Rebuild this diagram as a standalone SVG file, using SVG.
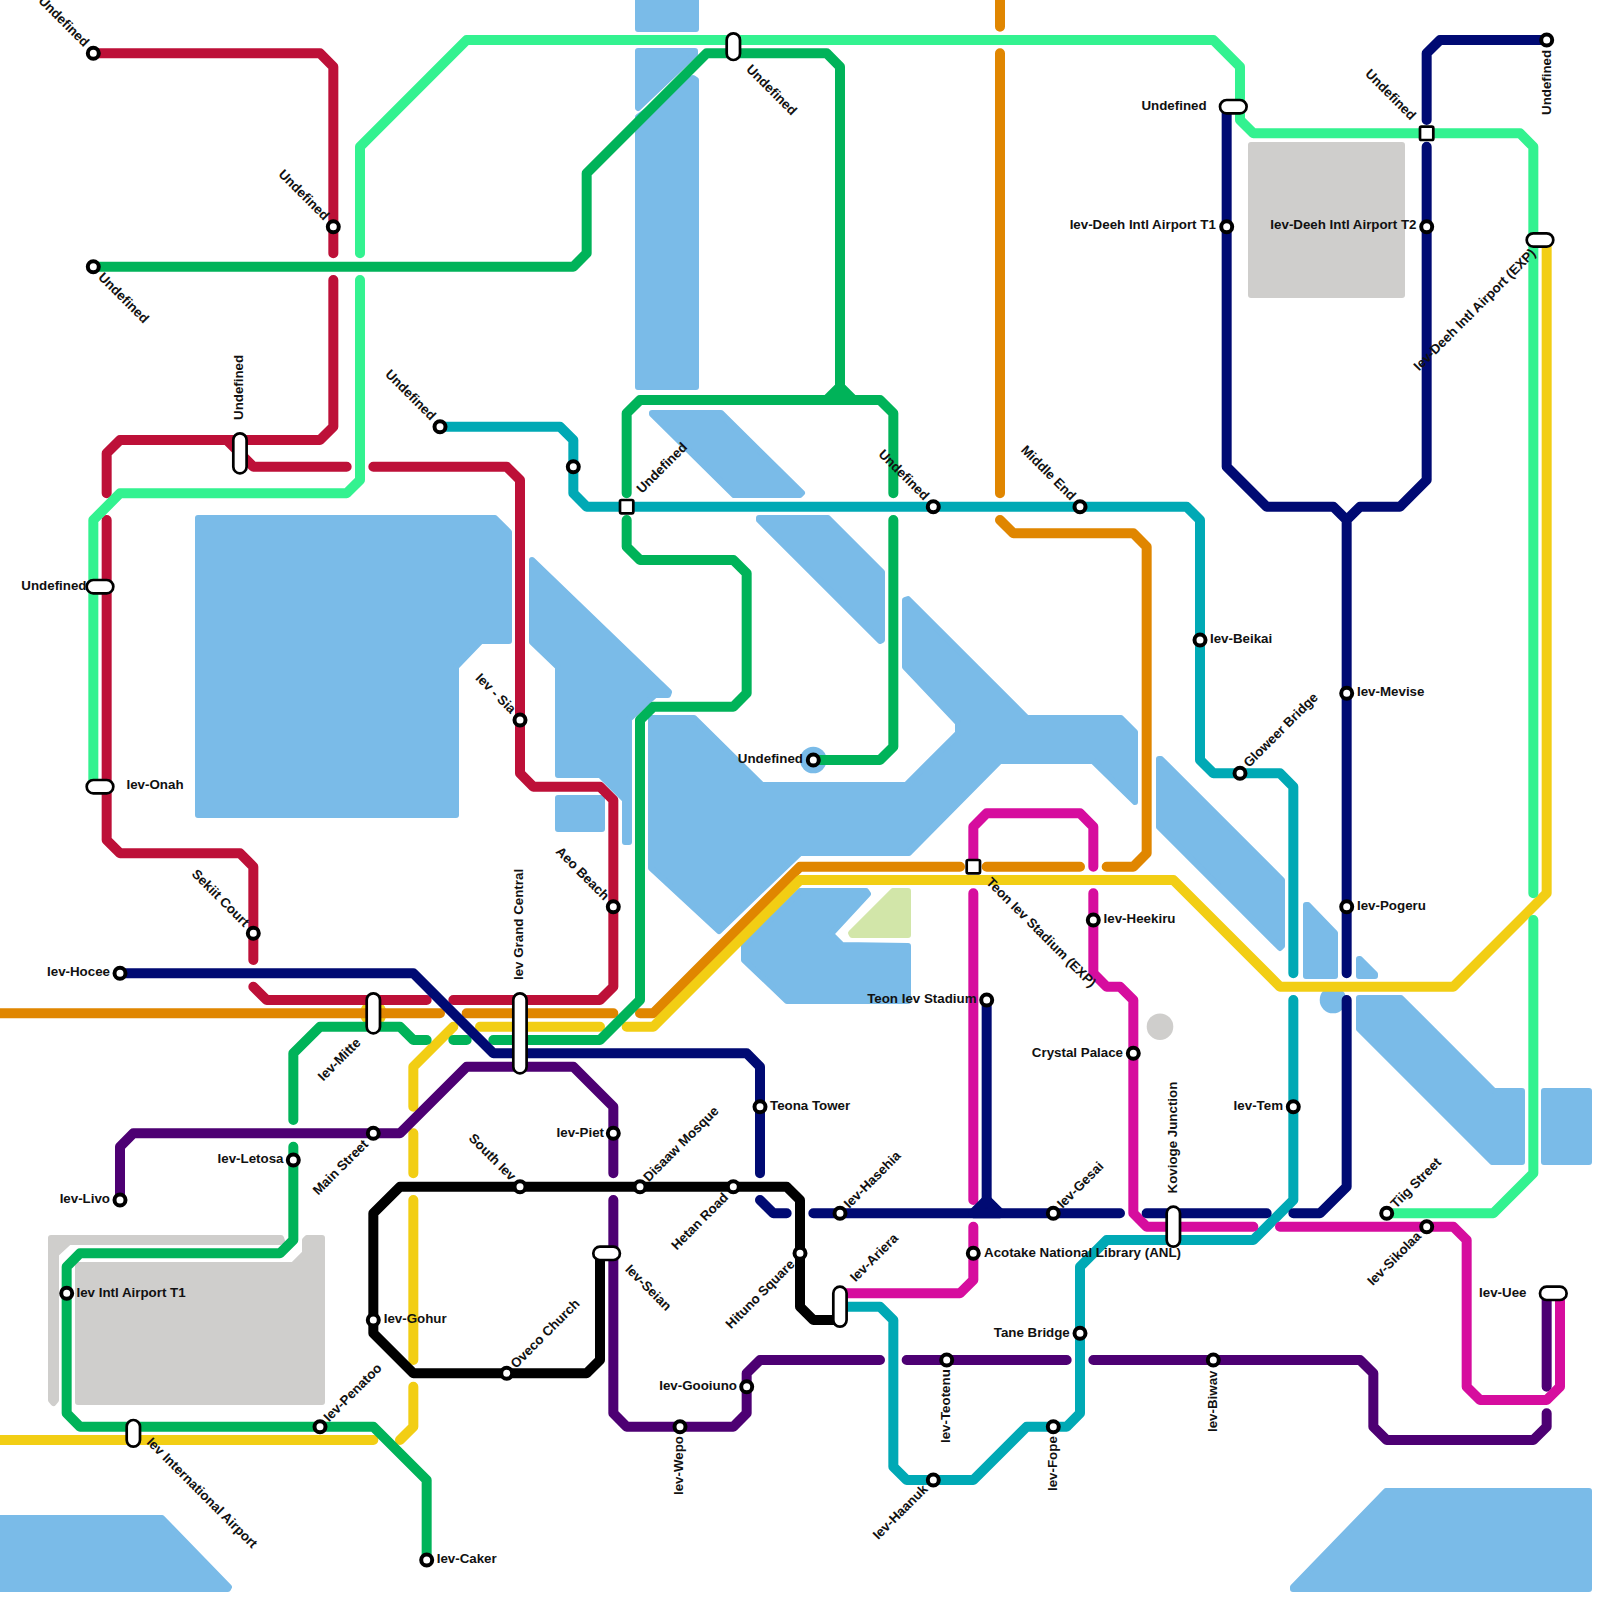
<svg xmlns="http://www.w3.org/2000/svg" width="1600" height="1600" viewBox="0 0 1600 1600">
<style>
text{font-family:"Liberation Sans",Arial,sans-serif;font-size:13.33px;font-weight:bold;fill:#111}
.e{text-anchor:end}
.w{fill:#7abbe8;stroke:#7abbe8;stroke-width:6;stroke-linejoin:round}
.g{fill:#cfcecc;stroke:#cfcecc;stroke-width:6;stroke-linejoin:round}
.l{fill:none;stroke-width:.75;stroke-linecap:round;stroke-linejoin:round}
.red{stroke:#bd1038}.lg{stroke:#33f290}.gr{stroke:#00b359}.te{stroke:#00a9b5}.na{stroke:#000a73}.pu{stroke:#4d0073}.ma{stroke:#d60d9e}.or{stroke:#e08600}.ye{stroke:#f2ce14}.bl{stroke:#000}
.s{fill:#fff;stroke:#000;stroke-width:4}
.q{fill:#fff;stroke:#000;stroke-width:2.7}
.p{fill:#fff;stroke:#000;stroke-width:2.7}
</style>
<g id="background">
<rect width="1600" height="1600" fill="#fff"/>
<polygon class="w" points="638,-5 696,-5 696,29 638,29"/>
<polygon class="w" points="638,51 695,51 695,54 638,108"/>
<polygon class="w" points="693,78 696,80 696,387 638,387 638,117"/>
<polygon class="w" points="198,518 495,518 509,532 509,641 481,641 456,667 456,815 198,815"/>
<polygon class="w" points="532,560 669,692 668,695 655,695 629,719 629,842 625,842 625,800 600,775 558,775 558,667 532,642"/>
<polygon class="w" points="558,798 602,798 602,829 558,829"/>
<polygon class="w" points="651,718 694,718 762,785 906,785 958,733 958,723 905,667 905,600 908,599 1027,718 1121,718 1135,732 1135,802 1093,761 1000,761 909,853 800,853 719,931 651,868"/>
<polygon class="w" points="866,891 800,891 744,946 744,960 787,1001 908,1001 908,946 842,945 831,934 868,894"/>
<polygon fill="#d2e6a9" stroke="#d2e6a9" stroke-width="6" stroke-linejoin="round" points="893,891 908,891 908,935 852,935 851,933"/>
<polygon class="w" points="652,413 721,413 802,493 800,495 734,495 652,414"/>
<polygon class="w" points="759,518 828,518 882,572 882,640 880,641 759,520"/>
<polygon class="w" points="1159,759 1161,759 1282,880 1282,946 1280,948 1159,827"/>
<polygon class="w" points="1306,905 1308,905 1335,933 1335,976 1306,976"/>
<polygon class="w" points="1359,959 1360,959 1375,974 1375,976 1359,976"/>
<circle cx="1333" cy="1000" r="13.3" fill="#7abbe8"/>
<circle cx="813.3" cy="760" r="13.3" fill="#7abbe8"/>
<polygon class="w" points="1359,998 1401,998 1494,1091 1522,1091 1522,1162 1492,1162 1359,1029"/>
<polygon class="w" points="1544,1091 1589,1091 1589,1162 1544,1162"/>
<polygon class="w" points="1293,1587 1386,1491 1589,1491 1589,1589 1293,1589"/>
<polygon class="w" points="-3,1518 162,1518 229,1587 228,1589 -3,1589"/>
<polygon class="g" points="1251,145 1402,145 1402,295 1251,295"/>
<polygon class="g" points="78,1265 293,1265 305,1253 305,1240 307,1238 322,1238 322,1402 78,1402"/>
<polygon class="g" points="51,1238 281,1238 282,1241 280,1242 69,1242 56,1254 56,1400 53.5,1403 51,1400"/>
<circle cx="1160" cy="1026.7" r="13.3" fill="#cfcecc"/>
<circle cx="373.3" cy="1013.3" r="13.3" fill="#f2ce14"/>
</g>
<g id="connectors" transform="scale(13.33333)">
<path class="l or" d="M0 76H33M35 76H46M48 76H49L60 65H72M74 65H81M83 65H85L86 64V41L85 40H76L75 39M75 37V4M75 2V0"/>
<path class="l ye" d="M0 108H28M30 108L31 107V104M31 102V90M31 88V85M31 83V80L34 77M36 77H45M47 77H49L60 66H88L96 74H109L116 67V18"/>
<path class="l red" d="M7 4H24L25 5V19M25 21V32L24 33H9L8 34V37M8 39V63L9 64H18L19 65V72M19 74L20 75H32M34 75H45L46 74V60L45 59H40L39 58V36L38 35H28M26 35H19L17 33"/>
<path class="l lg" d="M7 59V39L9 37H26L27 36V21M27 19V11L35 3H91L93 5V9L94 10H114L115 11V67M115 69V88L112 91H104"/>
<path class="l gr" d="M7 20H43L44 19V13L53 4H62L63 5V29M47 37V31L48 30H66L67 31V37M67 39V56L66 57H61M47 39V41L48 42H55L56 43V52L55 53H49L48 54V75L45 78H37M35 78H34M32 78H31L30 77H24L22 79V84M22 86V93L21 94H6L5 95V106L6 107H28L32 111V117"/>
<path class="l gr" style="fill:#00b359" d="M62 30L63 29L64 30Z"/>
<path class="l te" d="M33 32H42L43 33V37L44 38H89L90 39V57L91 58H96L97 59V73M97 75V90L94 93H83L81 95V106L80 107H77L73 111H68L67 110V99L66 98H63"/>
<path class="l pu" d="M9 90V86L10 85H30L35 80H43L46 83V88M46 90V106L47 107H55L56 106V103L57 102H66M68 102H80M82 102H102L103 103V107L104 108H115L116 107V106M116 104V97"/>
<path class="l ma" d="M63 97H72L73 96V92M73 90V67M73 65V62L74 61H81L82 62V65M82 67V73L83 74H84L85 75V91L86 92H94M96 92H109L110 93V104L111 105H116L117 104V97"/>
<path class="l bl" d="M63 99H61L60 98V90L59 89H30L28 91V100L31 103H44L45 102V94"/>
<path class="l na" d="M9 73H31L37 79H56L57 80V88M57 90L58 91H59M61 91H84M86 91H95M97 91H99L101 89V75M101 73V39M92 8V35L95 38H100L101 39L102 38H105L107 36V11M107 9V4L108 3H116M74 75V90"/>
<path class="l na" style="fill:#000a73" d="M73 91L74 90L75 91Z"/>
</g>
<g id="n1"><circle class="s" cx="93.3" cy="53.3" r="5.5"/><text class="e" transform="translate(83.8 47.6) rotate(45)">Undefined</text></g>
<g id="n2"><circle class="s" cx="333.3" cy="226.7" r="5.5"/><text class="e" transform="translate(323.8 221) rotate(45)">Undefined</text></g>
<g id="n3"><circle class="s" cx="93.3" cy="266.7" r="5.5"/><text transform="translate(97.5 278) rotate(45)">Undefined</text></g>
<g id="n4"><circle class="s" cx="440" cy="426.7" r="5.5"/><text class="e" transform="translate(430.5 421) rotate(45)">Undefined</text></g>
<g id="n5"><circle class="s" cx="573.3" cy="466.7" r="5.5"/></g>
<g id="n6"><circle class="s" cx="520" cy="720" r="5.5"/><text class="e" transform="translate(510.5 714.3) rotate(45)">Iev - Sia</text></g>
<g id="n7"><circle class="s" cx="813.3" cy="760" r="5.5"/><text class="e" x="803" y="762.5">Undefined</text></g>
<g id="n8"><circle class="s" cx="933.3" cy="506.7" r="5.5"/><text class="e" transform="translate(923.8 501) rotate(45)">Undefined</text></g>
<g id="n9"><circle class="s" cx="1080" cy="506.7" r="5.5"/><text class="e" transform="translate(1070.5 501) rotate(45)">Middle End</text></g>
<g id="n10"><circle class="s" cx="1226.7" cy="226.7" r="5.5"/><text class="e" x="1215.8" y="229">Iev-Deeh Intl Airport T1</text></g>
<g id="n11"><circle class="s" cx="1426.7" cy="226.7" r="5.5"/><text class="e" x="1416.5" y="229">Iev-Deeh Intl Airport T2</text></g>
<g id="n12"><circle class="s" cx="1546.7" cy="40" r="5.5"/><text transform="translate(1551 115) rotate(-90)">Undefined</text></g>
<g id="n13"><circle class="s" cx="1200" cy="640" r="5.5"/><text x="1210" y="643">Iev-Beikai</text></g>
<g id="n14"><circle class="s" cx="1346.7" cy="693.3" r="5.5"/><text x="1357" y="696">Iev-Mevise</text></g>
<g id="n15"><circle class="s" cx="1240" cy="773.3" r="5.5"/><text transform="translate(1249 768) rotate(-45)">Gloweer Bridge</text></g>
<g id="n16"><circle class="s" cx="1346.7" cy="906.7" r="5.5"/><text x="1357" y="909.5">Iev-Pogeru</text></g>
<g id="n17"><circle class="s" cx="1093.3" cy="920" r="5.5"/><text x="1103.6" y="923">Iev-Heekiru</text></g>
<g id="n18"><circle class="s" cx="986.7" cy="1000" r="5.5"/><text class="e" x="976.5" y="1003">Teon Iev Stadium</text></g>
<g id="n19"><circle class="s" cx="1133.3" cy="1053.3" r="5.5"/><text class="e" x="1123" y="1056.5">Crystal Palace</text></g>
<g id="n20"><circle class="s" cx="1293.3" cy="1106.7" r="5.5"/><text class="e" x="1283" y="1109.5">Iev-Tem</text></g>
<g id="n21"><circle class="s" cx="253.3" cy="933.3" r="5.5"/><text class="e" transform="translate(243.8 927.6) rotate(45)">Sekiit Court</text></g>
<g id="n22"><circle class="s" cx="613.3" cy="906.7" r="5.5"/><text class="e" transform="translate(603.8 901) rotate(45)">Aeo Beach</text></g>
<g id="n23"><circle class="s" cx="120" cy="973.3" r="5.5"/><text class="e" x="110" y="976">Iev-Hocee</text></g>
<g id="n24"><circle class="s" cx="760" cy="1106.7" r="5.5"/><text x="770" y="1109.5">Teona Tower</text></g>
<g id="n25"><circle class="s" cx="373.3" cy="1133.3" r="5.5"/><text class="e" transform="translate(369 1145) rotate(-45)">Main Street</text></g>
<g id="n26"><circle class="s" cx="613.3" cy="1133.3" r="5.5"/><text class="e" x="604" y="1136.5">Iev-Piet</text></g>
<g id="n27"><circle class="s" cx="293.3" cy="1160" r="5.5"/><text class="e" x="283.5" y="1163">Iev-Letosa</text></g>
<g id="n28"><circle class="s" cx="120" cy="1200" r="5.5"/><text class="e" x="110" y="1203">Iev-Livo</text></g>
<g id="n29"><circle class="s" cx="520" cy="1186.7" r="5.5"/><text class="e" transform="translate(510.5 1181.5) rotate(45)">South Iev</text></g>
<g id="n30"><circle class="s" cx="640" cy="1186.7" r="5.5"/><text transform="translate(648.7 1182.4) rotate(-45)">Disaaw Mosque</text></g>
<g id="n31"><circle class="s" cx="733.3" cy="1186.7" r="5.5"/><text class="e" transform="translate(729 1198.3) rotate(-45)">Hetan Road</text></g>
<g id="n32"><circle class="s" cx="66.7" cy="1293.3" r="5.5"/><text x="76.5" y="1296.5">Iev Intl Airport T1</text></g>
<g id="n33"><circle class="s" cx="373.3" cy="1320" r="5.5"/><text x="383.7" y="1323">Iev-Gohur</text></g>
<g id="n34"><circle class="s" cx="506.7" cy="1373.3" r="5.5"/><text transform="translate(516 1369) rotate(-45)">Oveco Church</text></g>
<g id="n35"><circle class="s" cx="320" cy="1426.7" r="5.5"/><text transform="translate(329 1422.4) rotate(-45)">Iev-Penatoo</text></g>
<g id="n36"><circle class="s" cx="426.7" cy="1560" r="5.5"/><text x="436.7" y="1563">Iev-Caker</text></g>
<g id="n37"><circle class="s" cx="800" cy="1253.3" r="5.5"/><text class="e" transform="translate(795.5 1265) rotate(-45)">Hituno Square</text></g>
<g id="n38"><circle class="s" cx="680" cy="1426.7" r="5.5"/><text transform="translate(683 1495) rotate(-90)">Iev-Wepo</text></g>
<g id="n39"><circle class="s" cx="746.7" cy="1386.7" r="5.5"/><text class="e" x="737" y="1389.5">Iev-Gooiuno</text></g>
<g id="n40"><circle class="s" cx="840" cy="1213.3" r="5.5"/><text transform="translate(849.2 1209) rotate(-45)">Iev-Hasehia</text></g>
<g id="n41"><circle class="s" cx="1053.3" cy="1213.3" r="5.5"/><text transform="translate(1062.5 1209) rotate(-45)">Iev-Gesai</text></g>
<g id="n42"><circle class="s" cx="973.3" cy="1253.3" r="5.5"/><text x="984" y="1256.5">Acotake National Library (ANL)</text></g>
<g id="n43"><circle class="s" cx="1080" cy="1333.3" r="5.5"/><text class="e" x="1069.8" y="1336.5">Tane Bridge</text></g>
<g id="n44"><circle class="s" cx="946.7" cy="1360" r="5.5"/><text transform="translate(950 1443) rotate(-90)">Iev-Teotenu</text></g>
<g id="n45"><circle class="s" cx="1213.3" cy="1360" r="5.5"/><text transform="translate(1217 1432) rotate(-90)">Iev-Biwav</text></g>
<g id="n46"><circle class="s" cx="1053.3" cy="1426.7" r="5.5"/><text transform="translate(1057 1491) rotate(-90)">Iev-Fope</text></g>
<g id="n47"><circle class="s" cx="933.3" cy="1480" r="5.5"/><text class="e" transform="translate(928.5 1490) rotate(-45)">Iev-Haanuk</text></g>
<g id="n48"><circle class="s" cx="1386.7" cy="1213.3" r="5.5"/><text transform="translate(1396 1209) rotate(-45)">Tiig Street</text></g>
<g id="n49"><circle class="s" cx="1426.7" cy="1226.7" r="5.5"/><text class="e" transform="translate(1422 1237) rotate(-45)">Iev-Sikolaa</text></g>
<g id="x1"><rect class="q" x="620" y="500" width="13.3" height="13.3" rx="1.5"/><text transform="translate(642 494) rotate(-45)">Undefined</text></g>
<g id="x2"><rect class="q" x="966.7" y="860" width="13.3" height="13.3" rx="1.5"/><text transform="translate(985.5 883) rotate(45)">Teon Iev Stadium (EXP)</text></g>
<g id="x3"><rect class="q" x="1420" y="126.7" width="13.3" height="13.3" rx="1.5"/><text class="e" transform="translate(1410.5 120.7) rotate(45)">Undefined</text></g>
<g id="p1"><rect class="p" x="233.3" y="433.3" width="13.3" height="40" rx="6.6"/><text transform="translate(243 420) rotate(-90)">Undefined</text></g>
<g id="p2"><rect class="p" x="86.7" y="580" width="26.6" height="13.3" rx="6.6"/><text class="e" x="86.5" y="590">Undefined</text></g>
<g id="p3"><rect class="p" x="86.7" y="780" width="26.6" height="13.3" rx="6.6"/><text x="126.5" y="789">Iev-Onah</text></g>
<g id="p4"><rect class="p" x="726.7" y="33.3" width="13.3" height="26.7" rx="6.6"/><text transform="translate(745.5 70) rotate(45)">Undefined</text></g>
<g id="p5"><rect class="p" x="1220" y="100" width="26.6" height="13.3" rx="6.6"/><text class="e" x="1206.6" y="109.5">Undefined</text></g>
<g id="p6"><rect class="p" x="1526.7" y="233.3" width="26.6" height="13.3" rx="6.6"/><text class="e" transform="translate(1536.5 254) rotate(-45)">Iev-Deeh Intl Airport (EXP)</text></g>
<g id="p7"><rect class="p" x="366.7" y="993.3" width="13.3" height="40" rx="6.6"/><text class="e" transform="translate(361.5 1043.5) rotate(-45)">Iev-Mitte</text></g>
<g id="p8"><rect class="p" x="513.3" y="993.3" width="13.3" height="80" rx="6.6"/><text transform="translate(523 980) rotate(-90)">Iev Grand Central</text></g>
<g id="p9"><rect class="p" x="126.7" y="1420" width="13.3" height="26.7" rx="6.6"/><text transform="translate(146 1443) rotate(45)">Iev International Airport</text></g>
<g id="p10"><rect class="p" x="593.3" y="1246.7" width="26.6" height="13.3" rx="6.6"/><text transform="translate(624.5 1270) rotate(45)">Iev-Seian</text></g>
<g id="p11"><rect class="p" x="833.3" y="1286.7" width="13.3" height="40" rx="6.6"/><text transform="translate(855.5 1282.5) rotate(-45)">Iev-Ariera</text></g>
<g id="p12"><rect class="p" x="1166.7" y="1206.7" width="13.3" height="40" rx="6.6"/><text transform="translate(1177 1193.5) rotate(-90)">Kovioge Junction</text></g>
<g id="p13"><rect class="p" x="1540" y="1286.7" width="26.6" height="13.3" rx="6.6"/><text class="e" x="1526.5" y="1296.5">Iev-Uee</text></g>
</svg>
